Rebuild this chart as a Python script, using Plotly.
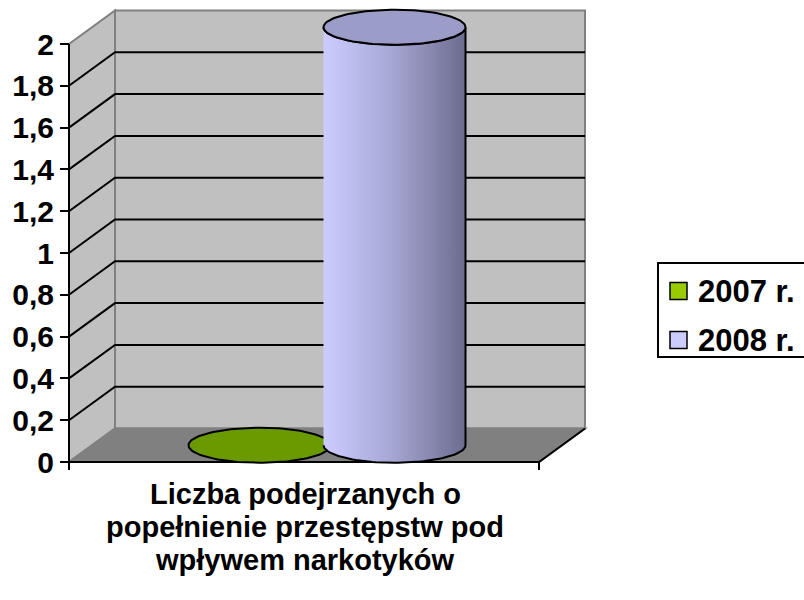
import numpy as np
import plotly.graph_objects as go

# ---------------- data ----------------
category = ["Liczba podejrzanych o", "popełnienie przestępstw pod", "wpływem narkotyków"]
series_names = ["2007 r.", "2008 r."]
series_values = [0, 2]
series_colors = ["#99CC00", "#CCCCFF"]
y_ticks = [0, 0.2, 0.4, 0.6, 0.8, 1.0, 1.2, 1.4, 1.6, 1.8, 2.0]
y_tick_labels = ["0", "0,2", "0,4", "0,6", "0,8", "1", "1,2", "1,4", "1,6", "1,8", "2"]

# ---------------- geometry ----------------
W, H = 804, 600
PX = 209.0                 # pixels per value unit
Y0 = 462.0                 # pixel row of value 0 (front)
ymax = Y0 / PX
ymin = ymax - H / PX
DX = 46.0                  # depth offset in x (px)
DV = 33.5 / PX             # depth offset in value units
XL, XR = 69.0, 539.0       # front floor edge
VMAX = max(y_ticks)
FONT = "Liberation Sans, Arial, sans-serif"
FS = 30
FS_TXT = 31
FS_CAT = 29

def py(p):  # pixel row -> paper y
    return 1 - p / H

shapes = []
# left wall
shapes.append(dict(type="path", layer="below",
                   path=f"M{XL},0 L{XL},{VMAX} L{XL+DX},{VMAX+DV} L{XL+DX},{DV} Z",
                   fillcolor="#C0C0C0", line=dict(color="#808080", width=2)))
# back wall
shapes.append(dict(type="rect", layer="below", x0=XL + DX, x1=XR + DX, y0=DV, y1=VMAX + DV,
                   fillcolor="#C0C0C0", line=dict(color="#808080", width=2)))
# gridlines (back wall + left wall diagonals)
for v in y_ticks[1:-1]:
    shapes.append(dict(type="path", layer="below",
                       path=f"M{XL},{v} L{XL+DX},{v+DV} L{XR+DX},{v+DV}",
                       line=dict(color="black", width=2)))
# floor
shapes.append(dict(type="path", layer="below",
                   path=f"M{XL},0 L{XR},0 L{XR+DX},{DV} L{XL+DX},{DV} Z",
                   fillcolor="#808080", line=dict(color="#808080", width=2)))
# floor right edge & front edge
ext = -8 / PX
shapes.append(dict(type="path", layer="below",
                   path=f"M{XR+DX},{DV} L{XR},0 L{XL},0",
                   line=dict(color="black", width=2)))
# y axis line
shapes.append(dict(type="line", layer="below", x0=XL, x1=XL, y0=ext, y1=VMAX,
                   line=dict(color="black", width=2)))
# end tick on floor front edge
shapes.append(dict(type="line", layer="below", x0=XR, x1=XR, y0=0, y1=ext,
                   line=dict(color="black", width=2)))

fig = go.Figure()

# cylinders
front_center = (XL + XR) / 2
offsets = [-67.5, 67.5]
RX = 71.0
RY = 17.5 / PX
t = np.linspace(0, 2 * np.pi, 121)
for name, val, col, off in zip(series_names, series_values, series_colors, offsets):
    cx = front_center + off + DX / 2
    cb = DV / 2
    ct = val + DV / 2
    if val > 0:
        tb = np.linspace(np.pi, 2 * np.pi, 61)
        bx = cx + RX * np.cos(tb)
        by = cb + RY * np.sin(tb)
        tt = np.linspace(0, -np.pi, 61)
        tx = cx + RX * np.cos(tt)
        ty = ct + RY * np.sin(tt)
        xs = np.concatenate([bx, tx])
        ys = np.concatenate([by, ty])
        fig.add_trace(go.Scatter(x=xs, y=ys, mode="lines", fill="toself",
                                 fillgradient=dict(type="horizontal",
                                                   colorscale=[[0, "#CCCCFF"], [0.45, "#AAAAD8"], [1, "#6C6C90"]]),
                                 line=dict(color="black", width=2), showlegend=False, hoverinfo="skip",
                                 name=name))
        fig.add_trace(go.Scatter(x=cx + RX * np.cos(t), y=ct + RY * np.sin(t), mode="lines", fill="toself",
                                 fillcolor="#9C9CC8", line=dict(color="black", width=2),
                                 showlegend=False, hoverinfo="skip", name=name))
    else:
        fig.add_trace(go.Scatter(x=cx + RX * np.cos(t), y=ct + RY * np.sin(t), mode="lines", fill="toself",
                                 fillcolor="#6B9900", line=dict(color="black", width=2),
                                 showlegend=False, hoverinfo="skip", name=name))

# legend (manual)
shapes.append(dict(type="rect", xref="x", yref="paper", x0=658, x1=812, y0=py(357), y1=py(263),
                   line=dict(color="black", width=2), fillcolor="white"))
annotations = []
leg_rows = [291, 340]
for name, col, r in zip(series_names, series_colors, leg_rows):
    shapes.append(dict(type="rect", xref="x", yref="paper", x0=670, x1=687, y0=py(r + 8.5), y1=py(r - 8.5),
                       line=dict(color="black", width=1.5), fillcolor=col))
    annotations.append(dict(x=696, y=py(r), xref="x", yref="paper", text=name, showarrow=False,
                            xanchor="left", yanchor="middle",
                            font=dict(family=FONT, size=FS_TXT, color="black", weight="bold")))

# category label (three lines)
for ln, r in zip(category, [494, 527, 560]):
    annotations.append(dict(x=305, y=py(r), xref="x", yref="paper", text=ln, showarrow=False,
                            xanchor="center", yanchor="middle", borderpad=0,
                            font=dict(family=FONT, size=FS_CAT, color="black", weight="bold")))

fig.update_layout(
    width=W, height=H,
    margin=dict(l=0, r=0, t=0, b=0),
    paper_bgcolor="white", plot_bgcolor="white",
    showlegend=False,
    shapes=shapes, annotations=annotations,
    xaxis=dict(range=[0, W], visible=False, domain=[0, 1], fixedrange=True),
    yaxis=dict(range=[ymin, ymax], anchor="free", position=XL / W, side="left", fixedrange=True,
               tickvals=y_ticks, ticktext=y_tick_labels,
               ticks="outside", ticklen=9, tickwidth=2, tickcolor="black",
               showline=False, showgrid=False, zeroline=False,
               tickfont=dict(family=FONT, size=FS, color="black", weight="bold")),
)

fig.write_html("out.html", config={"displayModeBar": False},
               post_script="document.body.style.margin='0';document.body.style.overflow='hidden';")
